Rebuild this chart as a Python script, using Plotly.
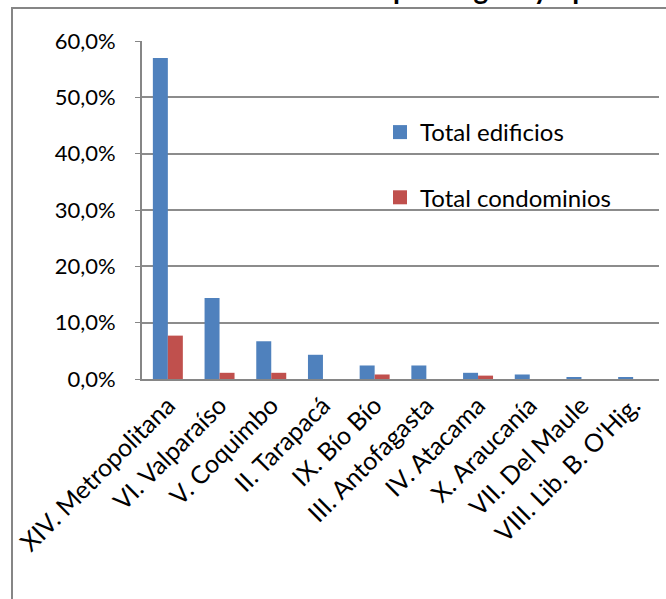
import plotly.graph_objects as go

regiones = ["XIV. Metropolitana", "VI. Valparaíso", "V. Coquimbo", "II. Tarapacá",
            "IX. Bío Bío", "III. Antofagasta", "IV. Atacama", "X. Araucanía",
            "VII. Del Maule", "VIII. Lib. B. O'Hig."]
total_edificios = [57.0, 14.4, 6.7, 4.3, 2.4, 2.4, 1.1, 0.8, 0.3, 0.3]
total_condominios = [7.7, 1.1, 1.1, 0.0, 0.8, 0.0, 0.6, 0.0, 0.0, 0.0]
y_ticks = [0, 10, 20, 30, 40, 50, 60]
y_tick_labels = ["0,0%", "10,0%", "20,0%", "30,0%", "40,0%", "50,0%", "60,0%"]
titulo = "Distribución Comunidades por Región y tipo"
series_names = ["Total edificios", "Total condominios"]
series_colors = ["#4F81BD", "#C0504D"]

FONT = "Lato"
W, H = 666, 599
ml, mr, mt, mb = 142, 7, 41, 220
ph = H - mt - mb
pw = W - ml - mr

fig = go.Figure()
for vals, name, col in zip([total_edificios, total_condominios], series_names, series_colors):
    fig.add_trace(go.Bar(x=regiones, y=vals, name=name, showlegend=False,
                         marker=dict(color=col, line=dict(width=0))))
# legend entries with square swatches
for i, (name, col) in enumerate(zip(series_names, series_colors)):
    fig.add_trace(go.Scatter(x=[None], y=[None], mode="markers", name=name,
                             legendgroup=str(i),
                             marker=dict(symbol="square", size=14, color=col)))

fig.update_layout(
    width=W, height=H,
    margin=dict(l=ml, r=mr, t=mt, b=mb, pad=0),
    paper_bgcolor="white", plot_bgcolor="white",
    barmode="group", bargap=0.42, bargroupgap=0,
    font=dict(family=FONT, color="black"),
    showlegend=True,
    legend=dict(x=(380 - ml) / pw, y=(379 - 110) / ph, xanchor="left", yanchor="top",
                bgcolor="rgba(0,0,0,0)", font=dict(size=24, family=FONT),
                tracegroupgap=31, itemwidth=30),
    xaxis=dict(type="category", tickangle=-45, tickfont=dict(size=25, family=FONT),
               showline=True, linecolor="#868686", linewidth=2, ticks="", showgrid=False),
    yaxis=dict(range=[0, 60], tickvals=y_ticks, ticktext=y_tick_labels,
               tickfont=dict(size=22, family=FONT), showline=True, linecolor="#868686",
               linewidth=2, showgrid=True, gridcolor="#8c8c8c", gridwidth=1.5,
               ticks="outside", ticklen=5, tickcolor="#868686", zeroline=False,
               ticklabelstandoff=15),
)

# outer chart frame (cropped)
fig.add_shape(type="rect", xref="paper", yref="paper",
              x0=(12 - ml) / pw, x1=(W + 20 - ml) / pw,
              y0=(379 - (H + 20)) / ph, y1=(379 - 8) / ph,
              line=dict(color="#868686", width=2), fillcolor="rgba(0,0,0,0)", layer="below")

# title, mostly cropped by the top edge (as in the reference)
fig.add_annotation(text="<b>" + titulo + "</b>", xref="paper", yref="paper",
                   x=(330 - ml) / pw, y=(379 - 7) / ph, xanchor="center", yanchor="bottom",
                   showarrow=False, font=dict(size=28, family=FONT, color="black"))

fig.write_html("out.html")
